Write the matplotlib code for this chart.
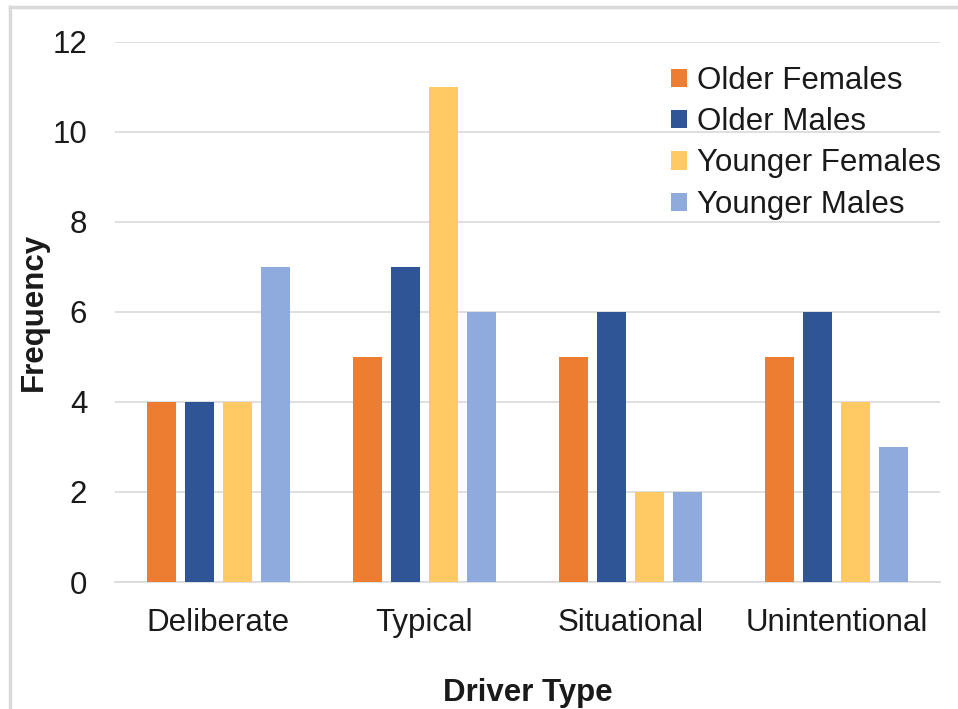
import matplotlib
matplotlib.use("Agg")
import matplotlib.pyplot as plt
import numpy as np
from matplotlib.lines import Line2D

categories = ["Deliberate", "Typical", "Situational", "Unintentional"]
series_names = ["Older Females", "Older Males", "Younger Females", "Younger Males"]
older_females = [4, 5, 5, 5]
older_males = [4, 7, 6, 6]
younger_females = [4, 11, 2, 4]
younger_males = [7, 6, 2, 3]
colors = ["#ED7D31", "#2F5597", "#FFC964", "#8FAADC"]
y_ticks = [0, 2, 4, 6, 8, 10, 12]

plt.rcParams['font.family'] = ['Liberation Sans', 'DejaVu Sans']
FS = 22.5
TXT = '#1A1A1A'

fig = plt.figure(figsize=(9.58, 7.09), dpi=100)
ax = fig.add_axes([115/958, 1-582/709, 825/958, 540/709])

x = np.arange(len(categories))
step = 38/206.25
width = 29/206.25
data = [older_females, older_males, younger_females, younger_males]
for i, (vals, name, c) in enumerate(zip(data, series_names, colors)):
    ax.bar(x + (i-1.5)*step, vals, width, color=c, label=name, zorder=3)

ax.set_xlim(-0.5, 3.5)
ax.set_ylim(0, 12)
ax.set_yticks(y_ticks)
ax.set_xticks(x)
ax.set_xticklabels(categories)
ax.tick_params(axis='both', length=0, labelsize=FS, colors=TXT)
ax.tick_params(axis='y', pad=20)
ax.tick_params(axis='x', pad=19)
ax.grid(axis='y', color='#D9D9D9', linewidth=1.2, zorder=0)
for s in ['top', 'right', 'left']:
    ax.spines[s].set_visible(False)
ax.spines['bottom'].set_color('#D9D9D9')
ax.spines['bottom'].set_linewidth(1.2)

ax.set_ylabel("Frequency", fontsize=FS, fontweight='bold', color=TXT)
ax.yaxis.set_label_coords(-(115-49)/825, 0.5)
ax.set_xlabel("Driver Type", fontsize=FS, fontweight='bold', color=TXT)
ax.xaxis.set_label_coords(0.5, -(678-582)/540)

leg = ax.legend(loc='upper left', bbox_to_anchor=((671-115)/825, (582-66)/540), frameon=False,
                fontsize=FS, handlelength=0.52, handleheight=0.52,
                handletextpad=0.3, labelspacing=0.36, borderaxespad=0, borderpad=0)
for t in leg.get_texts():
    t.set_color(TXT)

# figure border (chart area)
fig.add_artist(Line2D([10/958, 10/958], [0, 1-7/709], color='#D9D9D9', linewidth=2.5, transform=fig.transFigure))
fig.add_artist(Line2D([10/958, 1], [1-7/709, 1-7/709], color='#D9D9D9', linewidth=2.5, transform=fig.transFigure))

fig.savefig("out.png", dpi=100)
